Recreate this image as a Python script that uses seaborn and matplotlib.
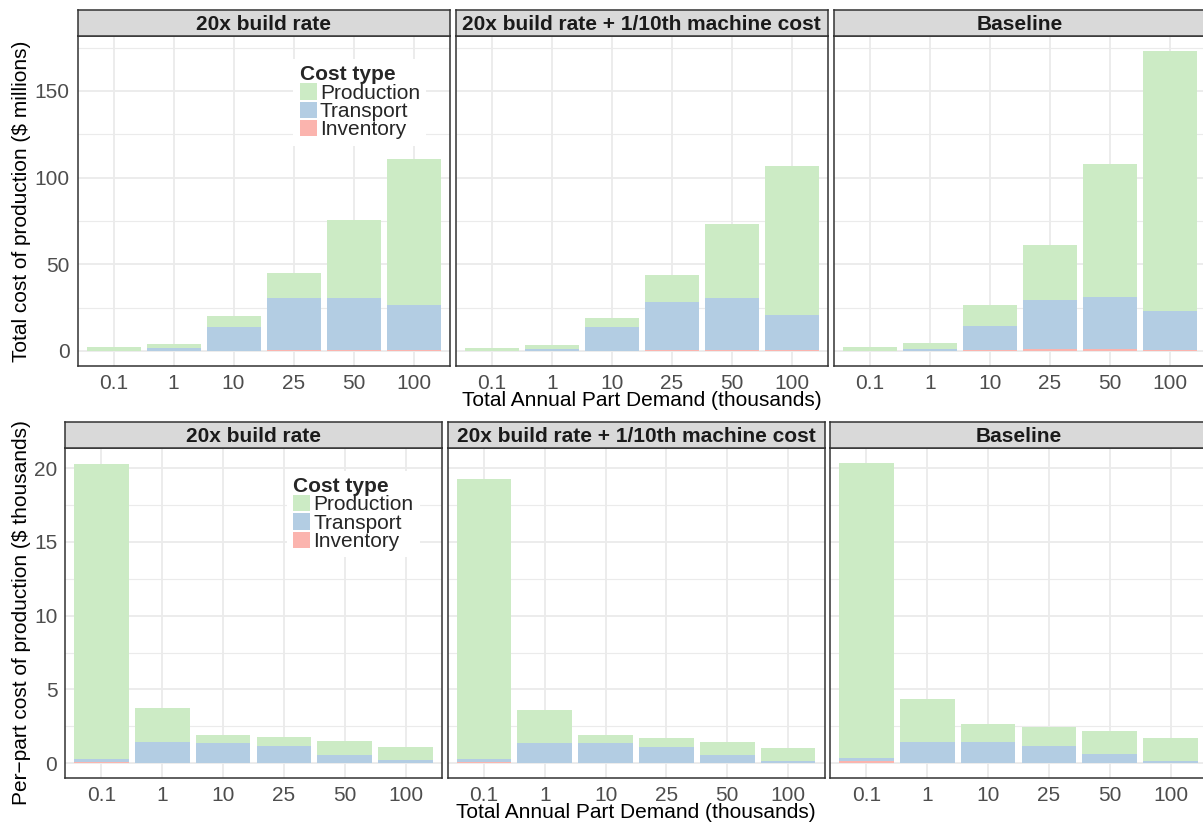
import numpy as np
import pandas as pd
import matplotlib
matplotlib.use("Agg")
import matplotlib.pyplot as plt
import seaborn as sns
from matplotlib.patches import Patch

# ---------------- data ----------------
demand_labels = ["0.1", "1", "10", "25", "50", "100"]
scenarios = ["20x build rate", "20x build rate + 1/10th machine cost", "Baseline"]
cost_types = ["Production", "Transport", "Inventory"]

# Total cost of production ($ millions), per segment
total_production = {
    "20x build rate": [2.0, 2.3, 5.8, 14.4, 45.5, 84.6],
    "20x build rate + 1/10th machine cost": [1.9, 2.27, 5.2, 15.6, 43.2, 86.3],
    "Baseline": [2.0, 3.4, 12.1, 32.2, 77.1, 150.2],
}
total_transport = {
    "20x build rate": [0.03, 1.45, 14.0, 29.8, 29.8, 25.9],
    "20x build rate + 1/10th machine cost": [0.02, 1.35, 14.0, 27.5, 29.8, 20.2],
    "Baseline": [0.02, 0.97, 13.9, 28.0, 29.7, 22.5],
}
total_inventory = {
    "20x build rate": [0.01, 0.03, 0.1, 0.5, 0.5, 0.4],
    "20x build rate + 1/10th machine cost": [0.01, 0.03, 0.1, 0.5, 0.5, 0.4],
    "Baseline": [0.02, 0.03, 0.3, 1.2, 1.2, 0.3],
}

# Per-part cost of production ($ thousands), per segment
perpart_production = {
    "20x build rate": [20.0, 2.3, 0.54, 0.61, 0.95, 0.88],
    "20x build rate + 1/10th machine cost": [18.99, 2.24, 0.54, 0.61, 0.89, 0.88],
    "Baseline": [20.0, 2.91, 1.22, 1.28, 1.56, 1.56],
}
perpart_transport = {
    "20x build rate": [0.18, 1.42, 1.36, 1.16, 0.53, 0.22],
    "20x build rate + 1/10th machine cost": [0.18, 1.35, 1.36, 1.09, 0.53, 0.15],
    "Baseline": [0.2, 1.42, 1.42, 1.13, 0.6, 0.15],
}
perpart_inventory = {
    "20x build rate": [0.11, 0.03, 0.02, 0.02, 0.03, 0.01],
    "20x build rate + 1/10th machine cost": [0.11, 0.03, 0.02, 0.02, 0.03, 0.01],
    "Baseline": [0.16, 0.03, 0.03, 0.05, 0.03, 0.01],
}

colors = {"Production": "#CCEBC5", "Transport": "#B3CDE3", "Inventory": "#FBB4AE"}

x_title = "Total Annual Part Demand (thousands)"
y_title_top = "Total cost of production ($ millions)"
y_title_bottom = "Per\u2212part cost of production ($ thousands)"

# ---------------- style ----------------
sns.set_style("white")
plt.rcParams["font.family"] = ["Liberation Sans", "DejaVu Sans"]

W, H = 1203, 825
fig = plt.figure(figsize=(W / 100, H / 100), dpi=100)
fig.patch.set_facecolor("white")


def rect(x0, y0, x1, y1):
    return [x0 / W, 1 - y1 / H, (x1 - x0) / W, (y1 - y0) / H]


def build_df(prod, trans, inv):
    rows = []
    for s in scenarios:
        for i, d in enumerate(demand_labels):
            rows.append({"scenario": s, "demand": d, "Inventory": inv[s][i],
                         "Transport": trans[s][i], "Production": prod[s][i]})
    df = pd.DataFrame(rows)
    df["cum_Inventory"] = df["Inventory"]
    df["cum_Transport"] = df["Inventory"] + df["Transport"]
    df["cum_Production"] = df["cum_Transport"] + df["Production"]
    return df


def draw_row(df, panel_x, y0, y1, strip_y0, yticks, ylabel, xlabel_y, ylabel_y):
    ymax = df["cum_Production"].max()
    ylim = (-0.05 * ymax, 1.05 * ymax)
    step = yticks[1] - yticks[0]
    minor = [t + step / 2 for t in yticks if t + step / 2 < ylim[1]]
    axes = []
    for k, s in enumerate(scenarios):
        x0, x1 = panel_x[k]
        ax = fig.add_axes(rect(x0, y0, x1, y1))
        ax.set_facecolor("white")
        sub = df[df["scenario"] == s]
        for ct in ["Production", "Transport", "Inventory"]:
            sns.barplot(data=sub, x="demand", y="cum_" + ct, order=demand_labels,
                        color=colors[ct], saturation=1, width=0.9, errorbar=None,
                        linewidth=0, ax=ax)
        ax.set_xlim(-0.6, 5.6)
        ax.set_ylim(*ylim)
        ax.set_yticks(yticks)
        ax.set_yticks(minor, minor=True)
        ax.set_axisbelow(True)
        ax.grid(True, which="major", color="#EBEBEB", lw=1.3)
        ax.grid(True, which="minor", axis="y", color="#EBEBEB", lw=0.8)
        ax.set_xlabel("")
        ax.set_ylabel("")
        for sp in ax.spines.values():
            sp.set_visible(True)
            sp.set_color("#333333")
            sp.set_linewidth(1.1)
        ax.tick_params(axis="both", which="major", direction="out", length=3.5,
                       width=1, color="#333333", labelcolor="#4D4D4D",
                       labelsize=15, pad=2)
        ax.tick_params(which="minor", length=0)
        if k > 0:
            ax.tick_params(axis="y", left=False, labelleft=False)
        # strip
        sax = fig.add_axes(rect(x0, strip_y0, x1, y0))
        sax.set_facecolor("#D9D9D9")
        sax.set_xticks([])
        sax.set_yticks([])
        for sp in sax.spines.values():
            sp.set_visible(True)
            sp.set_color("#333333")
            sp.set_linewidth(1.1)
        sax.text(0.5, 0.45, s, ha="center", va="center", fontsize=15,
                 fontweight="bold", color="#1A1A1A", transform=sax.transAxes)
        axes.append(ax)
    cx = (panel_x[0][0] + panel_x[-1][1]) / 2
    fig.text(cx / W, 1 - xlabel_y / H, x_title, ha="center", va="center",
             fontsize=15, color="black")
    fig.text(22 / W, 1 - ylabel_y / H, ylabel, ha="center", va="center",
             rotation=90, fontsize=15, color="black")
    return axes


df_top = build_df(total_production, total_transport, total_inventory)
df_bot = build_df(perpart_production, perpart_transport, perpart_inventory)

top_axes = draw_row(df_top,
                    [(77.5, 449.5), (455.7, 828.0), (833.7, 1205.7)],
                    36, 366, 9.5, [0, 50, 100, 150], y_title_top, 401, 201)
bot_axes = draw_row(df_bot,
                    [(65.0, 442.0), (447.5, 824.5), (830.0, 1207.0)],
                    447.7, 778.3, 421.7, [0, 5, 10, 15, 20], y_title_bottom, 812, 613)

handles = [Patch(facecolor=colors[c], edgecolor="none", label=c) for c in cost_types]
for ax, anchor in [(top_axes[0], (0.58, 0.93)), (bot_axes[0], (0.588, 0.93))]:
    leg = ax.legend(handles=handles, title="Cost type", loc="upper left",
                    bbox_to_anchor=anchor, frameon=True, facecolor="white",
                    edgecolor="none", framealpha=1, fancybox=False, fontsize=15,
                    title_fontproperties={"weight": "bold", "size": 15},
                    alignment="left", handlelength=0.83, handleheight=0.83,
                    handletextpad=0.15, labelspacing=-0.05, borderpad=0.3,
                    borderaxespad=0)
    leg.get_frame().set_linewidth(0)

fig.savefig("out.png", dpi=100, facecolor="white")
